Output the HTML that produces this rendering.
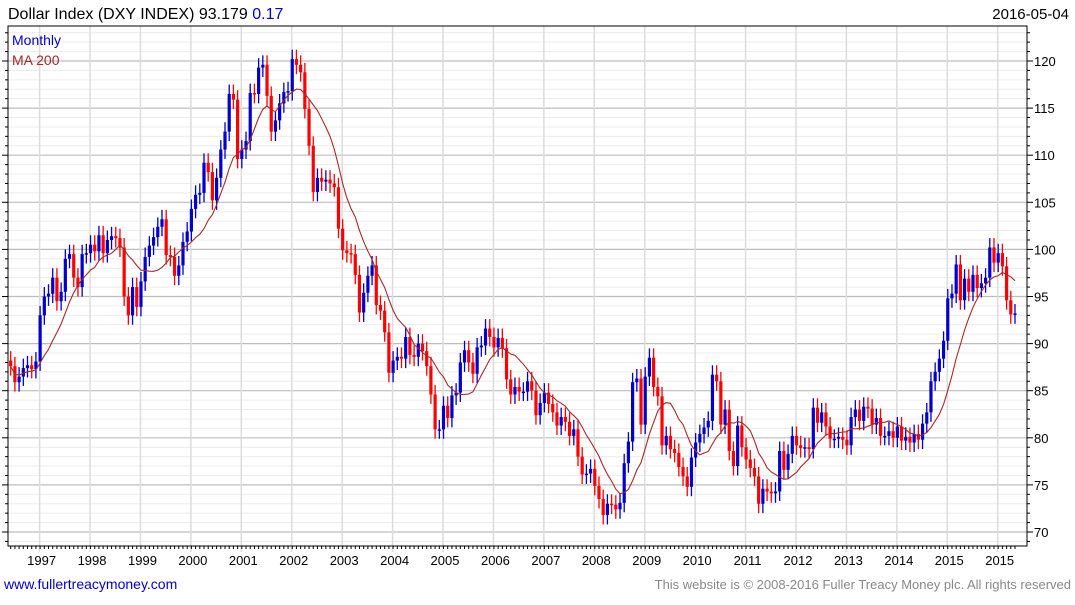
<!DOCTYPE html>
<html><head><meta charset="utf-8"><style>
body{margin:0;background:#fff;width:1075px;height:600px;overflow:hidden;font-family:"Liberation Sans",sans-serif}
svg text{font-family:"Liberation Sans",sans-serif}
</style></head><body>
<svg id="c" width="1075" height="600">
<text x="8" y="19" font-size="16" fill="#000">Dollar Index (DXY INDEX) 93.179 <tspan fill="#0000cc">0.17</tspan></text>
<text x="1069" y="19" font-size="15" fill="#000" text-anchor="end">2016-05-04</text>
<g id="grid"></g>
<g id="marks"></g>
<rect x="8" y="26" width="1019" height="520" fill="none" stroke="#000" stroke-width="1"/>
<text x="12" y="45" font-size="14" fill="#0000cc">Monthly</text>
<text x="12" y="65" font-size="14" fill="#a52a2a">MA 200</text>
<text x="4" y="589" font-size="14" fill="#0000cc">www.fullertreacymoney.com</text>
<text x="1071" y="589" font-size="13" fill="#888" text-anchor="end">This website is © 2008-2016 Fuller Treacy Money plc. All rights reserved</text>
</svg>
<script>
const closes = [
87.6,85.9,86.5,87.4,87.7,87.3,88.1,
93.0,95.0,95.3,97.0,94.5,95.5,99.0,99.5,97.0,96.0,99.5,99.6,
100.5,99.8,101.5,99.6,101.0,101.4,101.2,100.2,95.0,93.0,96.0,93.9,
96.6,99.2,100.4,101.3,102.4,103.2,99.4,99.2,97.2,98.3,100.8,101.9,
104.3,105.8,106.0,109.2,108.2,105.2,107.6,110.6,112.5,116.5,115.9,109.6,
110.6,111.5,116.6,116.5,119.3,119.6,116.3,112.5,113.7,115.5,116.7,116.8,
120.2,119.6,118.8,114.9,111.0,106.1,107.6,107.2,107.4,107.0,106.6,102.2,
99.9,99.6,99.5,97.3,93.3,95.4,97.2,98.3,94.1,93.5,91.2,86.9,
88.2,88.6,88.4,90.7,88.8,88.6,90.0,89.2,87.6,84.6,80.9,80.9,
83.4,82.1,84.5,84.8,88.0,89.3,88.0,86.8,89.6,89.8,91.6,90.7,
89.6,90.6,89.5,86.2,84.6,85.4,84.9,84.9,86.0,85.0,82.4,83.7,
84.8,83.6,82.7,81.3,82.2,81.7,80.2,80.9,78.0,76.1,76.2,76.7,
74.9,73.5,71.8,73.0,72.9,72.4,73.1,77.3,79.6,85.9,86.3,81.4,
86.5,88.5,85.4,84.4,79.2,80.2,78.8,78.4,76.9,75.9,74.8,77.9,
79.5,80.4,81.1,81.8,86.7,86.0,81.4,83.0,78.6,77.0,81.3,79.0,
77.7,76.8,75.9,73.0,74.6,74.3,74.1,74.3,78.6,76.6,78.3,80.2,
79.2,78.9,79.0,78.8,83.2,81.6,82.7,81.2,79.9,79.9,80.1,79.8,
79.2,82.2,83.0,81.8,83.3,83.1,81.4,82.1,80.2,80.2,80.7,80.0,
81.2,79.7,80.1,79.5,80.4,79.8,81.5,82.7,86.0,87.0,88.4,90.3,
94.8,95.3,98.4,94.6,96.9,95.5,97.3,95.9,96.4,97.0,100.2,98.6,
99.6,98.2,94.6,93.1,93.2];
const firstOpen = 88.2;
const yTicks = [70,75,80,85,90,95,100,105,110,115,120];
const xTickLabels = ["1997","1998","1999","2000","2001","2002","2003","2004","2005","2006","2007","2008","2009","2010","2011","2012","2013","2014","2015","2015"];
const maPeriod = 10;

const NS="http://www.w3.org/2000/svg";
const L=8,R=1027,T=26,B=546;
function y(v){return 532-(v-70)*(532-61)/50;}
const step=(1015-10.7)/(closes.length-1);
function x(i){return 10.7+i*step;}
function mk(tag,attrs,parent){const e=document.createElementNS(NS,tag);for(const k in attrs)e.setAttribute(k,attrs[k]);parent.appendChild(e);return e;}
const grid=document.getElementById('grid'),marks=document.getElementById('marks'),svg=document.getElementById('c');
// minor horizontal grid
for(let v=67;v<=123;v++){
  if(y(v)<T||y(v)>B)continue;
  const major=v%5===0;
  const ln=mk('line',{x1:L,x2:R,y1:y(v),y2:y(v),stroke:major?'#bdbdbd':'#ececec','stroke-width':major?1.2:1},grid);
  
  
  const tk=mk('line',{x1:R,x2:R+(major?6:3),y1:y(v),y2:y(v),stroke:'#000'},grid);
  
  
  const tl=mk('line',{x1:L,x2:L-(major?6:3),y1:y(v),y2:y(v),stroke:'#000'},grid);
  
  
}
yTicks.forEach(v=>{
  const t=mk('text',{x:1034,y:y(v)+5,'font-size':13,fill:'#000'},svg);
  t.textContent=v;
  
  
});
// year lines: Jan 1997 is index 7
xTickLabels.forEach((lab,k)=>{
  const xi=x(7+k*12)-0.5;
  const ln=mk('line',{x1:xi,x2:xi,y1:T,y2:B+6,stroke:'#dcdcdc','stroke-width':1.5},grid);
  
  
  const t=mk('text',{x:xi+2,y:565,'font-size':13,fill:'#000','text-anchor':'middle'},svg);
  t.textContent=lab;
  
  
});
for(let i=0;i<closes.length;i++){
  const tk=mk('line',{x1:x(i),x2:x(i),y1:B,y2:B+3,stroke:'#000'},grid);
  
  
}
// candles
for(let i=0;i<closes.length;i++){
  const o=i?closes[i-1]:firstOpen,c=closes[i];
  const up=c>=o,col=up?'#0000cc':'#ff0000';
  const hi=Math.max(o,c)+1.0,lo=Math.min(o,c)-1.0;
  const w=mk('line',{x1:x(i),x2:x(i),y1:y(hi),y2:y(lo),stroke:col,'stroke-width':1.3},marks);
  
  
  const top=y(Math.max(o,c)),h=Math.max(1.5,y(Math.min(o,c))-top);
  const b=mk('rect',{x:x(i)-1.6,y:top,width:3.2,height:h,fill:col},marks);
  
  
}
// MA
let pts=[];
for(let i=0;i<closes.length;i++){
  const s=closes.slice(Math.max(0,i-maPeriod+1),i+1);
  const m=s.reduce((a,b)=>a+b,0)/s.length;
  pts.push(x(i).toFixed(1)+','+y(m).toFixed(1));
}
const ma=mk('polyline',{points:pts.join(' '),fill:'none',stroke:'#a52a2a','stroke-width':1.1},marks);


</script>
</body></html>
